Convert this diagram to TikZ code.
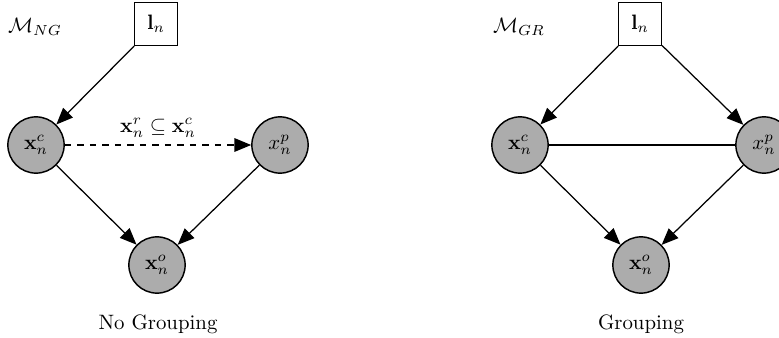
\documentclass[tikz,border=0pt]{standalone}
\usetikzlibrary{positioning,arrows.meta}

\begin{document}
\begin{tikzpicture}[
      x=0.48pt, y=-0.48pt,
      >={Triangle[length=8pt,width=6.5pt]},
      latent/.style={circle, draw, line width=0.7pt, fill=gray!65, minimum size=27pt, inner sep=0pt},
      obs/.style={rectangle, draw, line width=0.7pt, fill=white, minimum size=20.5pt, inner sep=0pt},
      edge/.style={->, line width=0.6pt}
  ]
    \useasboundingbox (0,0) rectangle (779,338);

    % no grouping
    \node (m_ng) at (35,27) {$\mathcal{M}_{NG}$};
    \node[obs] (l_ng) at (156,24) {$\mathbf{l}_n$};
    \node[latent] (xc_ng) at (36,145) {$\mathbf{x}_n^c$};
    \node[latent] (xp_ng) at (280,145) {$x_n^p$};
    \node[latent] (xo_ng) at (157,265) {$\mathbf{x}_n^o$};
    \node (cap_ng) at (158,324) {No Grouping};

    \draw[edge] (l_ng) -- (xc_ng);
    \draw[edge, dashed] (xc_ng) -- node[above] {$\mathbf{x}_n^r \subseteq \mathbf{x}_n^c$} (xp_ng);
    \draw[edge] (xc_ng) -- (xo_ng);
    \draw[edge] (xp_ng) -- (xo_ng);

    % grouping
    \begin{scope}[xshift=484*0.48pt]
      \node (m_gr) at (35,27) {$\mathcal{M}_{GR}$};
      \node[obs] (l_gr) at (156,24) {$\mathbf{l}_n$};
      \node[latent] (xc_gr) at (36,145) {$\mathbf{x}_n^c$};
      \node[latent] (xp_gr) at (280,145) {$x_n^p$};
      \node[latent] (xo_gr) at (157,265) {$\mathbf{x}_n^o$};
      \node (cap_gr) at (157,324) {Grouping};

      \draw[edge] (l_gr) -- (xc_gr);
      \draw[edge] (l_gr) -- (xp_gr);
      \draw[line width=0.6pt] (xc_gr) -- (xp_gr);
      \draw[edge] (xc_gr) -- (xo_gr);
      \draw[edge] (xp_gr) -- (xo_gr);
    \end{scope}
  \end{tikzpicture}
\end{document}
